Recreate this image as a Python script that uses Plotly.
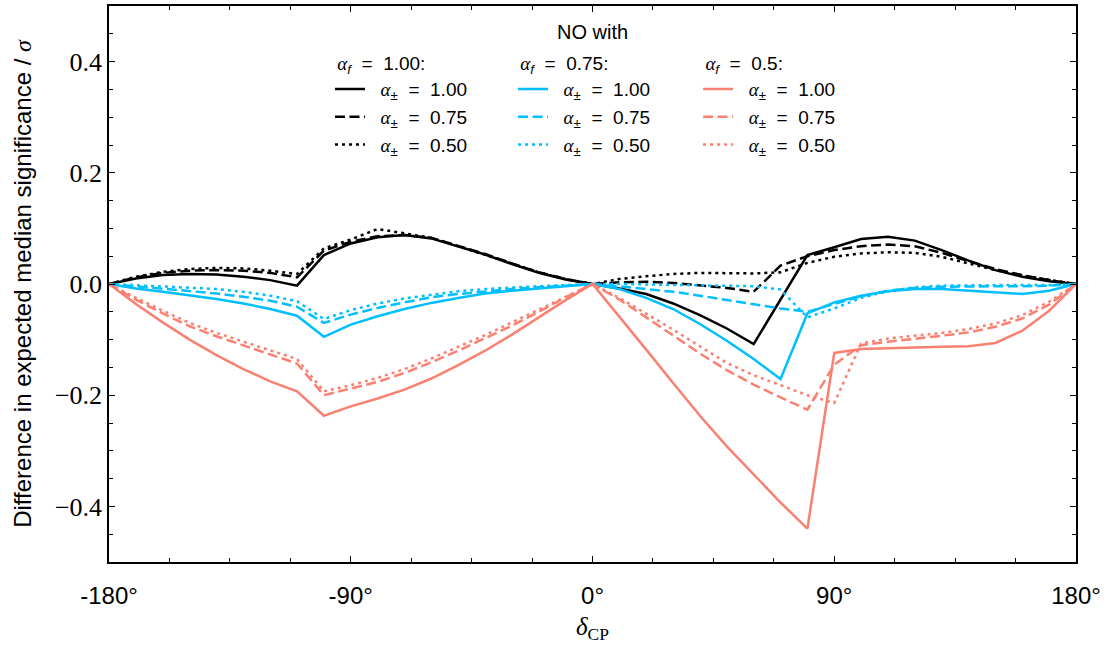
import plotly.graph_objects as go

# delta_CP grid in degrees
delta_cp = list(range(-180, 181, 10))

# NO with alpha_f = 1.00
k_100 = [0, 0.010, 0.016, 0.018, 0.017, 0.013, 0.007, -0.003, 0.052, 0.073, 0.084, 0.088, 0.082, 0.068, 0.053, 0.036, 0.020, 0.008, 0,
         -0.008, -0.018, -0.035, -0.056, -0.080, -0.108, -0.029, 0.052, 0.066, 0.081, 0.085, 0.078, 0.061, 0.042, 0.025, 0.013, 0.005, 0]
k_075 = [0, 0.012, 0.020, 0.024, 0.025, 0.024, 0.020, 0.012, 0.060, 0.076, 0.086, 0.088, 0.083, 0.069, 0.054, 0.037, 0.021, 0.009, 0,
         0.003, 0.004, 0.002, -0.002, -0.007, -0.014, 0.033, 0.050, 0.061, 0.068, 0.071, 0.068, 0.056, 0.041, 0.027, 0.016, 0.007, 0]
k_050 = [0, 0.013, 0.022, 0.027, 0.029, 0.028, 0.024, 0.018, 0.064, 0.080, 0.099, 0.091, 0.083, 0.068, 0.053, 0.037, 0.021, 0.009, 0,
         0.009, 0.014, 0.018, 0.020, 0.020, 0.019, 0.021, 0.038, 0.049, 0.055, 0.057, 0.056, 0.049, 0.037, 0.025, 0.015, 0.007, 0]

# NO with alpha_f = 0.75
b_100 = [0, -0.008, -0.014, -0.020, -0.027, -0.035, -0.045, -0.057, -0.095, -0.073, -0.058, -0.045, -0.034, -0.025, -0.017, -0.012, -0.008, -0.004, 0,
         -0.009, -0.025, -0.045, -0.072, -0.102, -0.135, -0.171, -0.053, -0.033, -0.021, -0.013, -0.009, -0.009, -0.012, -0.016, -0.018, -0.012, 0]
b_075 = [0, -0.004, -0.008, -0.012, -0.017, -0.023, -0.030, -0.041, -0.070, -0.055, -0.043, -0.033, -0.024, -0.018, -0.013, -0.009, -0.006, -0.003, 0,
         -0.004, -0.009, -0.014, -0.021, -0.029, -0.037, -0.044, -0.050, -0.036, -0.022, -0.012, -0.007, -0.005, -0.004, -0.004, -0.004, -0.003, 0]
b_050 = [0, -0.002, -0.004, -0.006, -0.009, -0.014, -0.021, -0.031, -0.063, -0.047, -0.035, -0.026, -0.019, -0.013, -0.009, -0.006, -0.004, -0.002, 0,
         0.000, -0.001, -0.001, -0.002, -0.003, -0.004, -0.010, -0.060, -0.044, -0.025, -0.013, -0.006, -0.003, -0.002, -0.002, -0.002, -0.002, 0]

# NO with alpha_f = 0.5
r_100 = [0, -0.036, -0.069, -0.100, -0.128, -0.153, -0.175, -0.193, -0.237, -0.220, -0.206, -0.190, -0.170, -0.146, -0.120, -0.091, -0.060, -0.029, 0,
         -0.058, -0.118, -0.178, -0.237, -0.292, -0.343, -0.393, -0.440, -0.124, -0.117, -0.115, -0.114, -0.113, -0.112, -0.106, -0.084, -0.048, 0]
r_075 = [0, -0.028, -0.053, -0.076, -0.094, -0.110, -0.126, -0.143, -0.200, -0.188, -0.176, -0.160, -0.141, -0.120, -0.098, -0.075, -0.050, -0.024, 0,
         -0.028, -0.060, -0.092, -0.125, -0.155, -0.181, -0.204, -0.226, -0.145, -0.110, -0.104, -0.099, -0.093, -0.087, -0.077, -0.062, -0.037, 0]
r_050 = [0, -0.025, -0.048, -0.070, -0.088, -0.104, -0.119, -0.135, -0.193, -0.182, -0.169, -0.153, -0.134, -0.113, -0.092, -0.069, -0.046, -0.022, 0,
         -0.025, -0.053, -0.082, -0.112, -0.142, -0.164, -0.182, -0.200, -0.214, -0.107, -0.098, -0.093, -0.088, -0.081, -0.071, -0.056, -0.032, 0]

x_tickvals = [-180, -90, 0, 90, 180]
x_ticktext = ["-180°", "-90°", "0°", "90°", "180°"]
y_tickvals = [-0.4, -0.2, 0.0, 0.2, 0.4]
y_ticktext = ["−0.4", "−0.2", "0.0", "0.2", "0.4"]

alpha_f_titles = ["1.00", "0.75", "0.5"]
alpha_pm_labels = ["1.00", "0.75", "0.50"]

SANS = "Liberation Sans, Arial, sans-serif"
SERIF = "Liberation Serif, Times New Roman, serif"
ALPHA = '<span style="font-family:Liberation Serif"><i>α</i></span>'
NB = "&nbsp;"
EQ = f"{NB}{NB}={NB}{NB}"

groups = [
    ("black", [k_100, k_075, k_050], "legend"),
    ("#00BFFF", [b_100, b_075, b_050], "legend2"),
    ("#FA8072", [r_100, r_075, r_050], "legend3"),
]
dashes = ["solid", "10px,4.5px", "3px,4px"]

fig = go.Figure()
for color, series, leg in groups:
    for vals, dash, lab in zip(series, dashes, alpha_pm_labels):
        fig.add_trace(go.Scatter(
            x=delta_cp, y=vals, mode="lines",
            line=dict(color=color, width=2.5, dash=dash),
            name=f"{NB}{NB}{ALPHA}<sub>±</sub>{EQ}{lab}",
            legend=leg,
        ))

legend_x = [0.2285, 0.4178, 0.6092]
legend_common = dict(
    y=0.929, yanchor="top", xanchor="left",
    bgcolor="rgba(0,0,0,0)", borderwidth=0,
    font=dict(family=SANS, size=19, color="black"),
    itemwidth=30,
)
legends = {}
for key, lx, af in zip(["legend", "legend2", "legend3"], legend_x, alpha_f_titles):
    legends[key] = dict(
        x=lx,
        title=dict(text=f"{NB}{ALPHA}<sub><i>f</i></sub>{EQ}{af}:",
                   font=dict(family=SANS, size=19, color="black"), side="top"),
        **legend_common,
    )

axis_common = dict(
    showline=True, linecolor="black", linewidth=1.5, mirror="ticks",
    ticks="inside", ticklen=6, tickwidth=1.2, tickcolor="black",
    showgrid=False, zeroline=False,
)

fig.update_layout(
    width=1107, height=649,
    margin=dict(l=109, r=31, t=4, b=87),
    plot_bgcolor="white", paper_bgcolor="white",
    showlegend=True,
    **legends,
    xaxis=dict(
        range=[-180, 180], tickvals=x_tickvals, ticktext=x_ticktext,
        tickfont=dict(family=SANS, size=24, color="black"),
        ticklabelstandoff=11,
        minor=dict(ticks="inside", dtick=22.5, tick0=-180, ticklen=4, tickcolor="black"),
        title=dict(text="<i>δ</i><sub>CP</sub>", font=dict(family=SERIF, size=25, color="black"), standoff=10),
        **axis_common,
    ),
    yaxis=dict(
        range=[-0.5, 0.5], tickvals=y_tickvals, ticktext=y_ticktext,
        tickfont=dict(family=SERIF, size=26, color="black"),
        minor=dict(ticks="inside", dtick=0.05, tick0=0, ticklen=4, tickcolor="black"),
        title=dict(text='Difference in expected median significance / <span style="font-family:Liberation Serif"><i>σ</i></span>',
                   font=dict(family=SANS, size=24, color="black"), standoff=16),
        **axis_common,
    ),
    annotations=[dict(
        text="NO with", x=0.5, y=0.976, xref="paper", yref="paper",
        showarrow=False, font=dict(family=SANS, size=20, color="black"),
    )],
)

fig.write_html("out.html")
